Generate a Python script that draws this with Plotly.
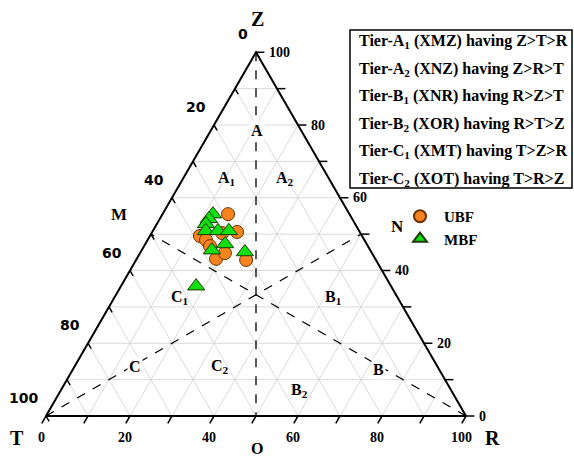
import numpy as np
import plotly.graph_objects as go

# ---------------- data (ternary percentages) ----------------
ubf_T = [28.9, 38.6, 37.7, 29.2, 37.6, 37.9, 30.9, 35.0, 32.9]
ubf_R = [15.6, 11.9, 13.9, 20.2, 15.7, 18.9, 26.2, 20.2, 16.8]
ubf_Z = [55.5, 49.5, 48.4, 50.6, 46.7, 43.2, 42.9, 44.8, 50.3]

mbf_T = [32.5, 34.1, 35.5, 36.5, 33.6, 31.0, 37.7, 33.7, 30.1, 46.4]
mbf_R = [12.0, 11.7, 11.7, 12.6, 15.5, 18.1, 16.7, 19.0, 24.8, 17.9]
mbf_Z = [55.5, 54.2, 52.8, 50.9, 50.9, 50.9, 45.6, 47.3, 45.1, 35.7]

tick_values = [0, 20, 40, 60, 80, 100]
minor_values = [0, 10, 20, 30, 40, 50, 60, 70, 80, 90, 100]
grid_values = [10, 20, 30, 40, 50, 60, 70, 80, 90]

tier_lines = [
    "Tier-A<sub>1</sub> (XMZ) having Z>T>R",
    "Tier-A<sub>2</sub> (XNZ) having Z>R>T",
    "Tier-B<sub>1</sub> (XNR) having R>Z>T",
    "Tier-B<sub>2</sub> (XOR) having R>T>Z",
    "Tier-C<sub>1</sub> (XMT) having T>Z>R",
    "Tier-C<sub>2</sub> (XOT) having T>R>Z",
]

# region labels: (text, T, R, Z, white background)
region_labels = [
    ("A", 10.6, 11.0, 78.4, True),
    ("A<sub>1</sub>", 24.2, 10.4, 65.4, False),
    ("A<sub>2</sub>", 10.5, 24.3, 65.2, False),
    ("B<sub>1</sub>", 15.3, 52.0, 32.7, False),
    ("B<sub>2</sub>", 36.0, 56.9, 7.1, False),
    ("C<sub>1</sub>", 51.7, 15.6, 32.7, False),
    ("C<sub>2</sub>", 51.7, 34.6, 13.7, False),
    ("C", 72.0, 14.4, 13.6, True),
    ("B", 14.5, 72.6, 12.9, True),
]

S3 = np.sqrt(3) / 2


def xy(R, Z):
    R = np.asarray(R, dtype=float)
    Z = np.asarray(Z, dtype=float)
    return R + Z / 2.0, Z * S3


SERIF = "Liberation Serif"
fig = go.Figure()

# ---------------- grid ----------------
gx, gy = [], []
for v in grid_values:
    x, y = xy([0, 100 - v], [v, v]); gx += list(x) + [None]; gy += list(y) + [None]
    x, y = xy([v, v], [0, 100 - v]); gx += list(x) + [None]; gy += list(y) + [None]
    x, y = xy([100 - v, 0], [0, 100 - v]); gx += list(x) + [None]; gy += list(y) + [None]
fig.add_trace(go.Scatter(x=gx, y=gy, mode="lines", line=dict(color="#dadada", width=1),
                         hoverinfo="skip", showlegend=False))

# ---------------- dashed dividers ----------------
dx, dy = [], []
for (r0, z0, r1, z1) in [(0, 100, 50, 0), (0, 0, 50, 50), (100, 0, 0, 50)]:
    x, y = xy([r0, r1], [z0, z1]); dx += list(x) + [None]; dy += list(y) + [None]
fig.add_trace(go.Scatter(x=dx, y=dy, mode="lines", line=dict(color="black", width=1.3, dash="dash"),
                         hoverinfo="skip", showlegend=False))

# ---------------- frame ----------------
x, y = xy([0, 100, 0, 0], [0, 0, 100, 0])
fig.add_trace(go.Scatter(x=x, y=y, mode="lines", line=dict(color="black", width=2),
                         hoverinfo="skip", showlegend=False))

# ---------------- ticks ----------------
tx, ty = [], []
L = 2.0
for v in minor_values:
    x0, y0 = xy(v, 0)
    tx += [x0, x0 - 0.5 * L, None]; ty += [y0, y0 - S3 * L, None]
    x0, y0 = xy(100 - v, v)
    tx += [x0, x0 + L, None]; ty += [y0, y0, None]
    x0, y0 = xy(0, 100 - v)
    tx += [x0, x0 + 0.5 * 1.5, None]; ty += [y0, y0 - S3 * 1.5, None]
fig.add_trace(go.Scatter(x=tx, y=ty, mode="lines", line=dict(color="black", width=1.5),
                         hoverinfo="skip", showlegend=False))

# ---------------- data ----------------
ux, uy = xy(ubf_R, ubf_Z)
fig.add_trace(go.Scatter(x=ux, y=uy, mode="markers", name="<b>UBF</b>",
                         marker=dict(symbol="circle", size=13, color="#F7841E",
                                     line=dict(color="#6b3000", width=1))))
mx, my = xy(mbf_R, mbf_Z)
fig.add_trace(go.Scatter(x=mx, y=my, mode="markers", name="<b>MBF</b>",
                         marker=dict(symbol="triangle-up", size=15, color="#10E010",
                                     line=dict(color="#1a3a00", width=1))))

ann = []
for v in tick_values:
    x0, y0 = xy(v, 0)
    ann.append(dict(x=x0, y=y0, text="<b>%d</b>" % v, showarrow=False, xshift=-5, yshift=-21,
                    font=dict(family=SERIF, size=14, color="black")))
    x0, y0 = xy(100 - v, v)
    ann.append(dict(x=x0, y=y0, text="<b>%d</b>" % v, showarrow=False, xanchor="left", xshift=11, yshift=0,
                    font=dict(family=SERIF, size=14, color="black")))
    x0, y0 = xy(0, 100 - v)
    ann.append(dict(x=x0, y=y0, text="<b>%d</b>" % v, showarrow=False, xanchor="right", xshift=-6, yshift=18,
                    font=dict(family="DejaVu Sans", size=14, color="black")))

big = dict(family=SERIF, size=20, color="black")
xz, yz = xy(0, 100)
ann.append(dict(x=xz, y=yz, text="<b>Z</b>", showarrow=False, xshift=1, yshift=33, font=big))
xt, yt = xy(0, 0)
ann.append(dict(x=xt, y=yt, text="<b>T</b>", showarrow=False, xshift=-29, yshift=-22, font=big))
xr, yr = xy(100, 0)
ann.append(dict(x=xr, y=yr, text="<b>R</b>", showarrow=False, xshift=26, yshift=-22, font=big))
xo, yo = xy(50, 0)
ann.append(dict(x=xo, y=yo, text="<b>O</b>", showarrow=False, xshift=1, yshift=-32,
                font=dict(family=SERIF, size=16, color="black")))
xm, ym = xy(0, 50)
ann.append(dict(x=xm, y=ym, text="<b>M</b>", showarrow=False, xshift=-32, yshift=20,
                font=dict(family=SERIF, size=17, color="black")))
xn, yn = xy(50, 50)
ann.append(dict(x=xn, y=yn, text="<b>N</b>", showarrow=False, xshift=36, yshift=8,
                font=dict(family=SERIF, size=17, color="black")))

for text, T, R, Z, bg in region_labels:
    x0, y0 = xy(R, Z)
    d = dict(x=x0, y=y0, text="<b>%s</b>" % text, showarrow=False,
             font=dict(family=SERIF, size=16, color="black"))
    if bg:
        d["bgcolor"] = "white"
    ann.append(d)

W, H = 574, 457
for i, line in enumerate(tier_lines):
    ypx = 42 + 27.4 * i
    ann.append(dict(xref="paper", yref="paper", x=357 / W, y=1 - ypx / H, xanchor="left", yanchor="middle",
                    text="<b>%s</b>" % line, showarrow=False,
                    font=dict(family=SERIF, size=16, color="black")))

shapes = [dict(type="rect", xref="paper", yref="paper", x0=350 / W, x1=572 / W,
               y0=1 - 188 / H, y1=1 - 30 / H, line=dict(color="black", width=1.5))]

k = 4.2
fig.update_layout(
    width=W, height=H, margin=dict(l=0, r=0, t=0, b=0),
    paper_bgcolor="white", plot_bgcolor="white",
    xaxis=dict(range=[-46 / k, (W - 46) / k], visible=False, fixedrange=True),
    yaxis=dict(range=[-(H - 416) / k, 416 / k], visible=False, fixedrange=True),
    annotations=ann, shapes=shapes,
    legend=dict(x=396 / W, y=1 - 200 / H, xanchor="left", yanchor="top",
                font=dict(family=SERIF, size=15, color="black"),
                bgcolor="rgba(0,0,0,0)", tracegroupgap=0, itemsizing="constant", itemwidth=38),
    showlegend=True,
)
fig.write_html("out.html", config={"displayModeBar": False},
               post_script="document.body.style.margin='0';document.body.style.padding='0';"
                           "document.body.style.overflow='hidden';")
